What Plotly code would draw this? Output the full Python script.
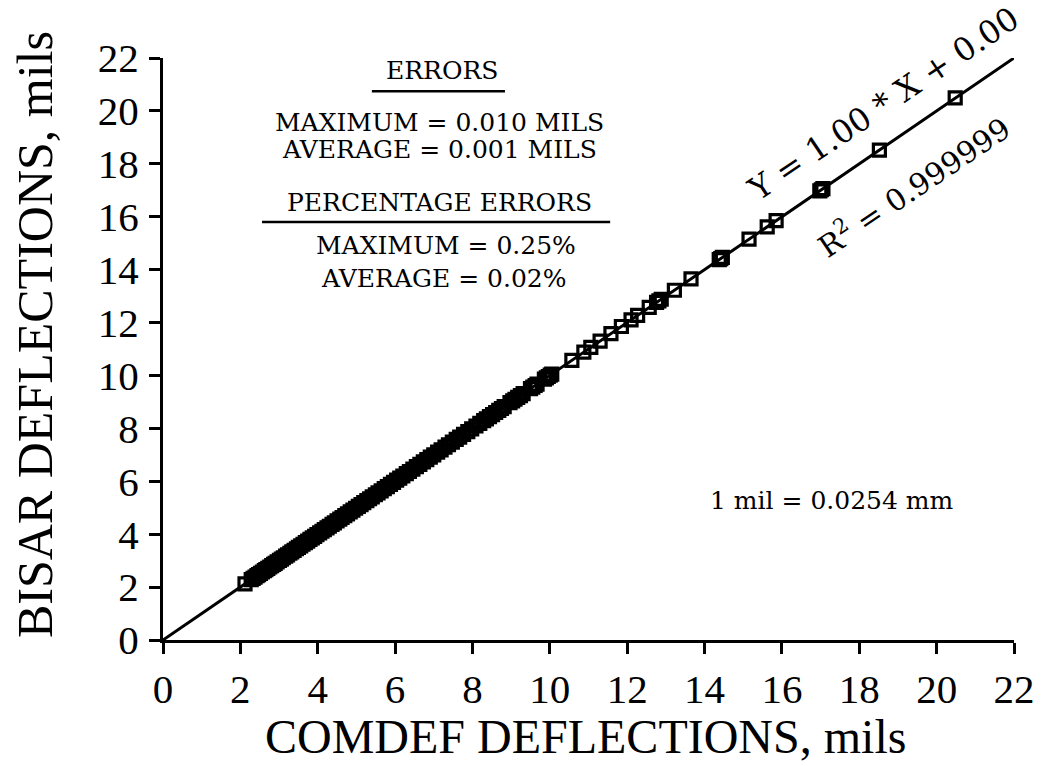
import plotly.graph_objects as go

# COMDEF (x) vs BISAR (y) deflections, mils
comdef = [2.12,
          2.28, 2.33, 2.38, 2.43, 2.47, 2.52, 2.57, 2.62, 2.66, 2.71, 2.76, 2.81, 2.86, 2.90, 2.95,
          3.01, 3.06, 3.11, 3.17, 3.22, 3.28, 3.33, 3.39, 3.45, 3.50, 3.56, 3.62, 3.68, 3.74, 3.80,
          3.86, 3.92, 3.98, 4.05, 4.11, 4.17, 4.24, 4.30, 4.37, 4.43, 4.50, 4.57, 4.63, 4.70, 4.77,
          4.84, 4.91, 4.98, 5.05, 5.12, 5.19, 5.27, 5.34, 5.41, 5.49, 5.56, 5.64, 5.72, 5.80, 5.88,
          5.96, 6.04, 6.12, 6.20, 6.29, 6.37, 6.46, 6.55, 6.64, 6.73, 6.82, 6.91, 7.00, 7.10, 7.19,
          7.29, 7.38, 7.48, 7.58, 7.67, 7.77, 7.88, 7.98, 8.09, 8.19, 8.29, 8.36, 8.44, 8.52, 8.60,
          8.68, 8.75, 8.82, 8.97, 9.04, 9.10, 9.17, 9.24, 9.31, 9.50, 9.56, 9.62, 9.67, 9.86, 9.91,
          9.96, 10.01, 10.05,
          10.57, 10.88, 11.06, 11.30, 11.58, 11.85, 12.10, 12.27, 12.57, 12.76, 12.82, 12.88, 13.22,
          13.65, 14.38, 14.42, 14.46, 15.15, 15.62, 15.85, 16.98, 17.02, 17.06, 18.52, 20.48]

bisar = [2.12,
         2.28, 2.33, 2.38, 2.43, 2.47, 2.52, 2.57, 2.62, 2.66, 2.71, 2.76, 2.81, 2.86, 2.90, 2.95,
         3.01, 3.06, 3.11, 3.17, 3.22, 3.28, 3.33, 3.39, 3.45, 3.50, 3.56, 3.62, 3.68, 3.74, 3.80,
         3.86, 3.92, 3.98, 4.05, 4.11, 4.17, 4.24, 4.30, 4.37, 4.43, 4.50, 4.57, 4.63, 4.70, 4.77,
         4.84, 4.91, 4.98, 5.05, 5.12, 5.19, 5.27, 5.34, 5.41, 5.49, 5.56, 5.64, 5.72, 5.80, 5.88,
         5.96, 6.04, 6.12, 6.20, 6.29, 6.37, 6.46, 6.55, 6.64, 6.73, 6.82, 6.91, 7.00, 7.10, 7.19,
         7.29, 7.38, 7.48, 7.58, 7.67, 7.77, 7.88, 7.98, 8.09, 8.19, 8.29, 8.36, 8.44, 8.52, 8.60,
         8.68, 8.75, 8.82, 8.97, 9.04, 9.10, 9.17, 9.24, 9.31, 9.50, 9.56, 9.62, 9.67, 9.86, 9.91,
         9.96, 10.01, 10.05,
         10.57, 10.88, 11.06, 11.30, 11.58, 11.85, 12.10, 12.27, 12.57, 12.76, 12.82, 12.88, 13.22,
         13.65, 14.38, 14.42, 14.46, 15.15, 15.62, 15.85, 16.98, 17.02, 17.06, 18.52, 20.49]

fit_slope = 1.00
fit_intercept = 0.00
axis_max = 22
tick_values = list(range(0, 23, 2))

FONT = "Liberation Serif"
BLACK = "#000000"

fit_x = [0, axis_max]
fit_y = [fit_slope * v + fit_intercept for v in fit_x]

fig = go.Figure()
fig.add_trace(go.Scatter(x=fit_x, y=fit_y, mode="lines",
                         line=dict(color=BLACK, width=3), showlegend=False, hoverinfo="skip"))
fig.add_trace(go.Scatter(x=comdef, y=bisar, mode="markers",
                         marker=dict(symbol="square-open", size=12, color=BLACK,
                                     line=dict(color=BLACK, width=3.2)),
                         showlegend=False, cliponaxis=False))

txt = dict(family="DejaVu Serif", size=25, color=BLACK)
annots = [
    ("ERRORS", 7.21, 21.52),
    ("MAXIMUM = 0.010 MILS", 7.16, 19.58),
    ("AVERAGE = 0.001 MILS", 7.16, 18.53),
    ("PERCENTAGE ERRORS", 7.16, 16.52),
    ("MAXIMUM = 0.25%", 7.32, 14.90),
    ("AVERAGE = 0.02%", 7.26, 13.65),
    ("1 mil = 0.0254 mm", 17.30, 5.28),
]
for t, x, y in annots:
    fig.add_annotation(text=t, x=x, y=y, xref="x", yref="y", showarrow=False, font=txt)

fig.add_annotation(text="Y = 1.00 * X + 0.00", x=18.62, y=20.28, xref="x", yref="y",
                   showarrow=False, textangle=-34,
                   font=dict(family="DejaVu Serif", size=32, color=BLACK))
fig.add_annotation(text="R<sup>2</sup> = 0.999999", x=19.39, y=17.13, xref="x", yref="y",
                   showarrow=False, textangle=-34,
                   font=dict(family="DejaVu Serif", size=30, color=BLACK))

# underlines
fig.add_shape(type="line", x0=5.40, x1=8.84, y0=20.74, y1=20.74, xref="x", yref="y",
              line=dict(color=BLACK, width=2.5))
fig.add_shape(type="line", x0=2.56, x1=11.56, y0=15.80, y1=15.80, xref="x", yref="y",
              line=dict(color=BLACK, width=2.5))

# axis titles
fig.add_annotation(text="COMDEF DEFLECTIONS, mils", x=0.496, y=-0.166, xref="paper",
                   yref="paper", showarrow=False, font=dict(family=FONT, size=48, color=BLACK),
                   xanchor="center", yanchor="middle")
fig.add_annotation(text="BISAR DEFLECTIONS, mils", x=-0.1504, y=0.524, xref="paper",
                   yref="paper", showarrow=False, font=dict(family=FONT, size=50, color=BLACK),
                   textangle=-90, xanchor="center", yanchor="middle")

axis_common = dict(range=[0, axis_max], tickvals=tick_values, ticks="outside", ticklen=11,
                   tickwidth=3, tickcolor=BLACK, showline=True, linewidth=3, linecolor=BLACK,
                   showgrid=False, zeroline=False, mirror=False, automargin=False,
                   tickfont=dict(family=FONT, size=41, color=BLACK))

fig.update_xaxes(**axis_common, ticklabelstandoff=0)
fig.update_yaxes(**axis_common, ticklabelstandoff=2)

fig.update_layout(width=1044, height=766, margin=dict(l=163, r=30, t=58, b=126),
                  plot_bgcolor="white", paper_bgcolor="white")

fig.write_html("out.html")
